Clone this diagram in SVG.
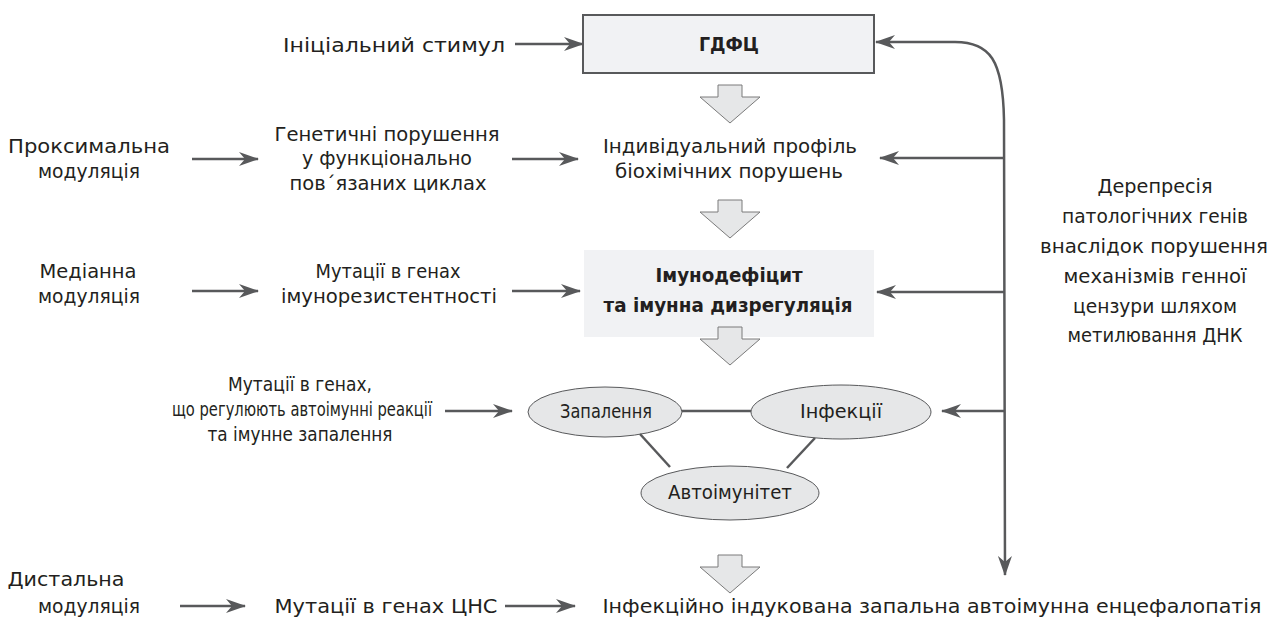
<svg xmlns="http://www.w3.org/2000/svg" width="1268" height="620" viewBox="0 0 1268 620">
<style>
.t{font-family:"DejaVu Sans","Liberation Sans",sans-serif;font-size:19px;fill:#231f20;text-anchor:middle}
.r{font-size:20px}
.b{font-weight:bold}
.ln{stroke:#58595b;stroke-width:2.5;fill:none}
.el{fill:#e6e7e8;stroke:#58595b;stroke-width:1}
.ha{fill:#e6e7e8;stroke:#7a7a7a;stroke-width:1}
</style>
<defs>
<marker id="ah" viewBox="0 0 20 14" refX="19" refY="7" markerWidth="20" markerHeight="14" markerUnits="userSpaceOnUse" orient="auto-start-reverse">
<path d="M0,0 L20,7 L0,14 L6,7 z" fill="#58595b"/>
</marker>
</defs>
<rect width="1268" height="620" fill="#fff"/>

<g id="n-gdfc">
<rect x="583" y="15" width="291" height="58" fill="#f1f2f4" stroke="#58595b" stroke-width="2"/>
<text class="t b" x="729" y="51" font-size="20" textLength="60" lengthAdjust="spacingAndGlyphs">ГДФЦ</text>
</g>
<g id="n-init"><text class="t" x="394" y="52" textLength="222" lengthAdjust="spacingAndGlyphs">Ініціальний стимул</text></g>
<g id="n-prox"><text class="t" x="89" y="153" textLength="162" lengthAdjust="spacingAndGlyphs">Проксимальна</text><text class="t" x="89" y="178" textLength="102" lengthAdjust="spacingAndGlyphs">модуляція</text></g>
<g id="n-gen"><text class="t" x="387" y="141" textLength="225" lengthAdjust="spacingAndGlyphs">Генетичні порушення</text><text class="t" x="387" y="165" textLength="170" lengthAdjust="spacingAndGlyphs">у функціонально</text><text class="t" x="388" y="190" textLength="197" lengthAdjust="spacingAndGlyphs">пов΄язаних циклах</text></g>
<g id="n-prof"><text class="t" x="730" y="153" textLength="254" lengthAdjust="spacingAndGlyphs">Індивідуальний профіль</text><text class="t" x="729" y="178" textLength="228" lengthAdjust="spacingAndGlyphs">біохімічних порушень</text></g>
<g id="n-med"><text class="t" x="88" y="278" textLength="97" lengthAdjust="spacingAndGlyphs">Медіанна</text><text class="t" x="89" y="303" textLength="102" lengthAdjust="spacingAndGlyphs">модуляція</text></g>
<g id="n-mut"><text class="t" x="388" y="278" textLength="145" lengthAdjust="spacingAndGlyphs">Мутації в генах</text><text class="t" x="389" y="303" textLength="216" lengthAdjust="spacingAndGlyphs">імунорезистентності</text></g>
<g id="n-imm">
<rect x="584" y="250" width="290" height="87" fill="#f1f2f4"/>
<text class="t b" x="729" y="282" textLength="147" lengthAdjust="spacingAndGlyphs">Імунодефіцит</text><text class="t b" x="728" y="312" textLength="249" lengthAdjust="spacingAndGlyphs">та імунна дизрегуляція</text>
</g>
<g id="n-auto"><text class="t" x="300" y="391" textLength="144" lengthAdjust="spacingAndGlyphs">Мутації в генах,</text><text class="t" x="302" y="416" textLength="260" lengthAdjust="spacingAndGlyphs">що регулюють автоімунні реакції</text><text class="t" x="300" y="441" textLength="185" lengthAdjust="spacingAndGlyphs">та імунне запалення</text></g>
<g id="n-zap"><ellipse class="el" cx="605" cy="412" rx="77" ry="25"/><text class="t" x="606" y="418" textLength="92" lengthAdjust="spacingAndGlyphs">Запалення</text></g>
<g id="n-inf"><ellipse class="el" cx="841" cy="412" rx="90" ry="27"/><text class="t" x="841" y="418" textLength="82" lengthAdjust="spacingAndGlyphs">Інфекції</text></g>
<g id="n-aut"><ellipse class="el" cx="730" cy="493" rx="89" ry="27"/><text class="t" x="730" y="499" textLength="124" lengthAdjust="spacingAndGlyphs">Автоімунітет</text></g>
<g id="n-dist"><text class="t" x="66" y="586" textLength="117" lengthAdjust="spacingAndGlyphs">Дистальна</text><text class="t" x="89" y="613" textLength="102" lengthAdjust="spacingAndGlyphs">модуляція</text></g>
<g id="n-cns"><text class="t" x="386" y="613" textLength="223" lengthAdjust="spacingAndGlyphs">Мутації в генах ЦНС</text></g>
<g id="n-enc"><text class="t" x="932" y="613" textLength="659" lengthAdjust="spacingAndGlyphs">Інфекційно індукована запальна автоімунна енцефалопатія</text></g>
<g id="n-derep">
<text class="t r" x="1155" y="193" textLength="115" lengthAdjust="spacingAndGlyphs">Дерепресія</text>
<text class="t r" x="1155" y="223" textLength="186" lengthAdjust="spacingAndGlyphs">патологічних генів</text>
<text class="t r" x="1154" y="253" textLength="228" lengthAdjust="spacingAndGlyphs">внаслідок порушення</text>
<text class="t r" x="1155" y="283" textLength="183" lengthAdjust="spacingAndGlyphs">механізмів генної</text>
<text class="t r" x="1155" y="313" textLength="164" lengthAdjust="spacingAndGlyphs">цензури шляхом</text>
<text class="t r" x="1155" y="342" textLength="175" lengthAdjust="spacingAndGlyphs">метилювання ДНК</text>
</g>

<g id="connectors">
<path class="ha" d="M718,85 h24 v12 h18 l-30,26 l-30,-26 h18 z"/>
<path class="ha" d="M718,200 h24 v12 h18 l-30,26 l-30,-26 h18 z"/>
<path class="ha" d="M718,327 h24 v12 h18 l-30,26 l-30,-26 h18 z"/>
<path class="ha" d="M718,555 h24 v12 h18 l-30,26 l-30,-26 h18 z"/>

<path class="ln" d="M515,44 H583" marker-end="url(#ah)"/>
<path class="ln" d="M192,159 H258" marker-end="url(#ah)"/>
<path class="ln" d="M512,159 H578" marker-end="url(#ah)"/>
<path class="ln" d="M192,291 H258" marker-end="url(#ah)"/>
<path class="ln" d="M512,291 H580" marker-end="url(#ah)"/>
<path class="ln" d="M445,411 H512" marker-end="url(#ah)"/>
<path class="ln" d="M180,606 H245" marker-end="url(#ah)"/>
<path class="ln" d="M505,606 H575" marker-end="url(#ah)"/>

<path class="ln" d="M876,42 H955 C990,42 1003,60 1004,120 L1005,575" marker-start="url(#ah)" marker-end="url(#ah)"/>
<path class="ln" d="M1005,158 H880" marker-end="url(#ah)"/>
<path class="ln" d="M1005,292 H877" marker-end="url(#ah)"/>
<path class="ln" d="M1005,411 H942" marker-end="url(#ah)"/>

<path class="ln" stroke-width="3" d="M682,411 H751"/>
<path class="ln" stroke-width="3" d="M640,434 L670,467"/>
<path class="ln" stroke-width="3" d="M815,438 L787,468"/>
</g>
</svg>
